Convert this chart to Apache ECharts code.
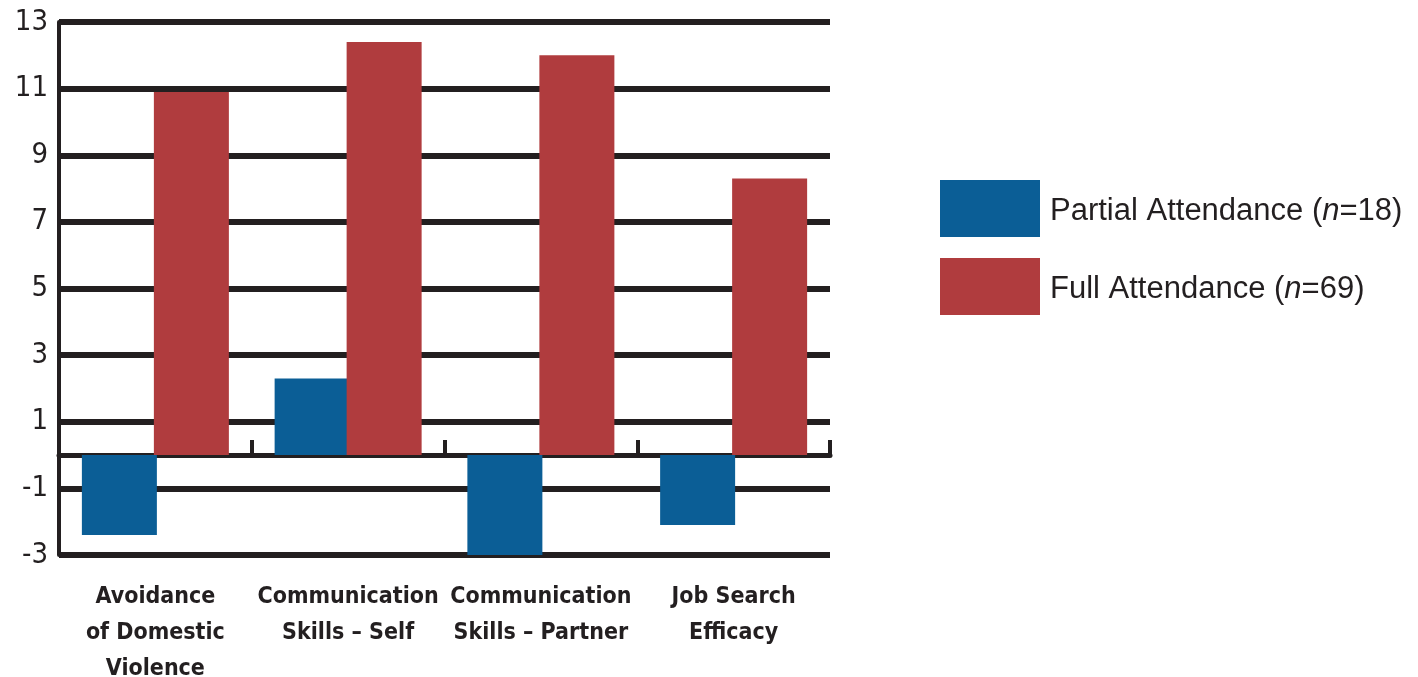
<!DOCTYPE html>
<html>
<head>
<meta charset="utf-8">
<script src="https://cdn.jsdelivr.net/npm/echarts@6/dist/echarts.min.js"></script>
<style>
  html, body { margin: 0; padding: 0; background: #fff; }
  #main { width: 1418px; height: 677px; }
</style>
</head>
<body>
<div id="main"></div>
<script>
// categories and values
var categories = ['Avoidance\nof Domestic\nViolence', 'Communication\nSkills \u2013 Self', 'Communication\nSkills \u2013 Partner', 'Job Search\nEfficacy'];
var partial = [-2.4, 2.3, -3.0, -2.1];
var full = [10.9, 12.4, 12.0, 8.3];
var seriesNames = ['Partial Attendance (n=18)', 'Full Attendance (n=69)'];

var ink = '#231f20';
var narrow = '"DejaVu Sans Condensed", "Liberation Sans", sans-serif';
var chart = echarts.init(document.getElementById('main'));

chart.setOption({
    animation: false,
    grid: { left: 59, right: 588, top: 22, bottom: 122, containLabel: false, outerBoundsMode: 'none' },
    legend: {
        orient: 'vertical',
        left: 940,
        top: 180,
        padding: 0,
        itemWidth: 100,
        itemHeight: 57,
        itemGap: 21,
        icon: 'rect',
        data: seriesNames,
        formatter: function (name) {
            // italic n in the legend text
            var parts = name.split('(n');
            return '{a|' + parts[0] + '(}{i|n}{a|' + parts[1] + '}';
        },
        textStyle: {
            padding: [5, 0, 0, 5],
            rich: {
                a: { fontFamily: 'Liberation Sans', fontSize: 31, color: ink },
                i: { fontFamily: 'Liberation Sans', fontSize: 31, fontStyle: 'italic', color: ink }
            }
        }
    },
    xAxis: [
        {
            // labels under the chart
            type: 'category',
            data: categories,
            position: 'bottom',
            axisLine: { show: false, onZero: false },
            axisTick: { show: false },
            axisLabel: {
                margin: 24,
                fontFamily: narrow,
                fontWeight: 'bold',
                fontSize: 23,
                lineHeight: 36,
                color: ink,
                interval: 0
            }
        },
        {
            // zero line with upward ticks between groups
            type: 'category',
            data: categories,
            position: 'bottom',
            axisLine: { show: true, onZero: true, lineStyle: { color: ink, width: 5 } },
            axisTick: { show: true, inside: true, length: 15, lineStyle: { color: ink, width: 4 } },
            axisLabel: { show: false },
            splitLine: { show: false }
        }
    ],
    yAxis: {
        type: 'value',
        min: -3,
        max: 13,
        interval: 2,
        axisLine: { show: true, onZero: false, lineStyle: { color: ink, width: 4 } },
        axisTick: { show: false },
        axisLabel: {
            margin: 11,
            fontFamily: narrow,
            fontSize: 29,
            color: ink
        },
        splitLine: { show: true, lineStyle: { color: ink, width: 6 } }
    },
    series: [
        {
            name: seriesNames[0],
            type: 'bar',
            xAxisIndex: 0,
            data: partial,
            barWidth: 75,
            barGap: '-4%',
            itemStyle: { color: '#0b5e96' }
        },
        {
            name: seriesNames[1],
            type: 'bar',
            xAxisIndex: 0,
            data: full,
            barWidth: 75,
            barGap: '-4%',
            itemStyle: { color: '#b03c3e' }
        }
    ]
});
</script>
</body>
</html>
